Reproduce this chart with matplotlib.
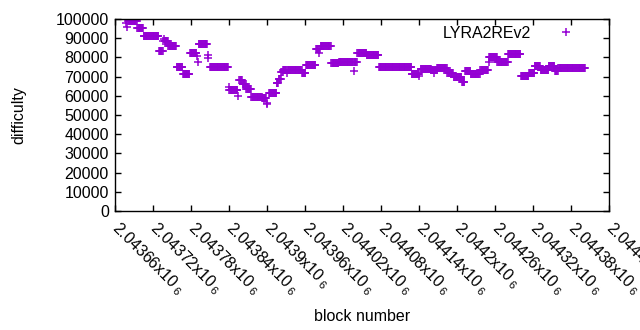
import numpy as np
import matplotlib
matplotlib.use("Agg")
import matplotlib.pyplot as plt

plt.rcParams['font.family'] = ['Liberation Sans', 'DejaVu Sans']
plt.rcParams['mathtext.fontset'] = 'custom'
plt.rcParams['mathtext.rm'] = 'Liberation Sans'
plt.rcParams['mathtext.it'] = 'Liberation Sans'
plt.rcParams['mathtext.default'] = 'regular'

# ---- data: runs of constant difficulty (block offsets from base) ----
base_block = 2043660
run_start = [18, 20, 22, 36, 37, 46, 70, 77, 78, 79, 85, 98, 108, 119, 130, 131,
             133, 147, 148, 151, 180, 181, 195, 197, 202, 208, 216, 233, 240, 241,
             244, 256, 259, 263, 266, 272, 273, 296, 302, 318, 323, 324, 325, 342,
             354, 361, 377, 378, 383, 398, 417, 469, 480, 481, 483, 500, 504, 505,
             509, 525, 535, 548, 553, 562, 577, 590, 591, 604, 621, 641, 654, 663,
             672, 685, 695, 700]
run_end = [18, 20, 35, 36, 45, 69, 76, 77, 78, 84, 97, 107, 118, 129, 130, 131,
           146, 147, 148, 179, 180, 194, 195, 201, 207, 215, 232, 239, 240, 241,
           255, 258, 262, 265, 271, 272, 295, 301, 317, 322, 323, 324, 341, 353,
           360, 376, 377, 382, 397, 416, 468, 479, 480, 481, 499, 503, 504, 508,
           524, 534, 547, 552, 561, 576, 589, 590, 603, 620, 640, 653, 662, 671,
           684, 694, 699, 742]
run_value = [97800, 96000, 98800, 95100, 95400, 91000, 83200, 88600, 89400, 88600,
             85800, 75200, 71300, 82100, 80700, 77800, 87200, 81000, 79500, 74900,
             64800, 63000, 59900, 68000, 66300, 63300, 59600, 58800, 55500, 56500,
             61700, 66700, 69000, 72400, 73500, 71700, 73500, 71800, 75900, 84500,
             82200, 84500, 85900, 76900, 77800, 77500, 72700, 77500, 82200, 81400,
             75000, 71600, 70300, 71600, 74200, 73500, 72000, 73500, 74700, 72000,
             69600, 67200, 72700, 71400, 73400, 77800, 80000, 77500, 81700, 70300,
             72000, 75300, 73400, 75500, 72900, 74300]

x_ticks = list(range(2043660, 2044441, 60))
series_label = "LYRA2REv2"

blocks = np.concatenate([np.arange(s, e + 1) for s, e in zip(run_start, run_end)]) + base_block
diffs = np.concatenate([np.full(e - s + 1, v) for s, e, v in zip(run_start, run_end, run_value)])

fig = plt.figure(figsize=(6.4, 3.3), dpi=100)
ax = fig.add_axes([114.5 / 640, 1 - 211 / 330, (609 - 114.5) / 640, (211 - 19) / 330])

color = '#9400D3'
ax.plot(blocks, diffs, linestyle='none', marker='+', markersize=5.5, markeredgewidth=1.1,
        color=color, label=series_label)

ax.set_xlim(2043660, 2044440)
ax.set_ylim(0, 100000)

def fmt(v):
    s = f"{v / 1e6:.5f}".rstrip('0').rstrip('.')
    return s + r"x10$\,_{6}$"

ax.set_xticks(x_ticks)
ax.set_xticklabels([fmt(v) for v in x_ticks], rotation=-45, ha='left', va='center',
                   rotation_mode='anchor', fontsize=11.5)
ax.set_yticks(range(0, 100001, 10000))
ax.tick_params(axis='y', labelsize=11.5)
ax.tick_params(direction='in', length=4, width=1, top=True, right=True, pad=4)
ax.tick_params(axis='x', pad=10)

for sp in ax.spines.values():
    sp.set_linewidth(1.0)

ax.set_xlabel("block number", fontsize=11.5, labelpad=8)
ax.set_ylabel("difficulty", fontsize=11.5, labelpad=21)

leg = ax.legend(loc='upper right', bbox_to_anchor=(0.946, 0.964), frameon=False,
                markerfirst=False, fontsize=11.5, handlelength=2.0, handletextpad=1.2,
                borderpad=0, borderaxespad=0)

fig.savefig("out.png", dpi=100)
